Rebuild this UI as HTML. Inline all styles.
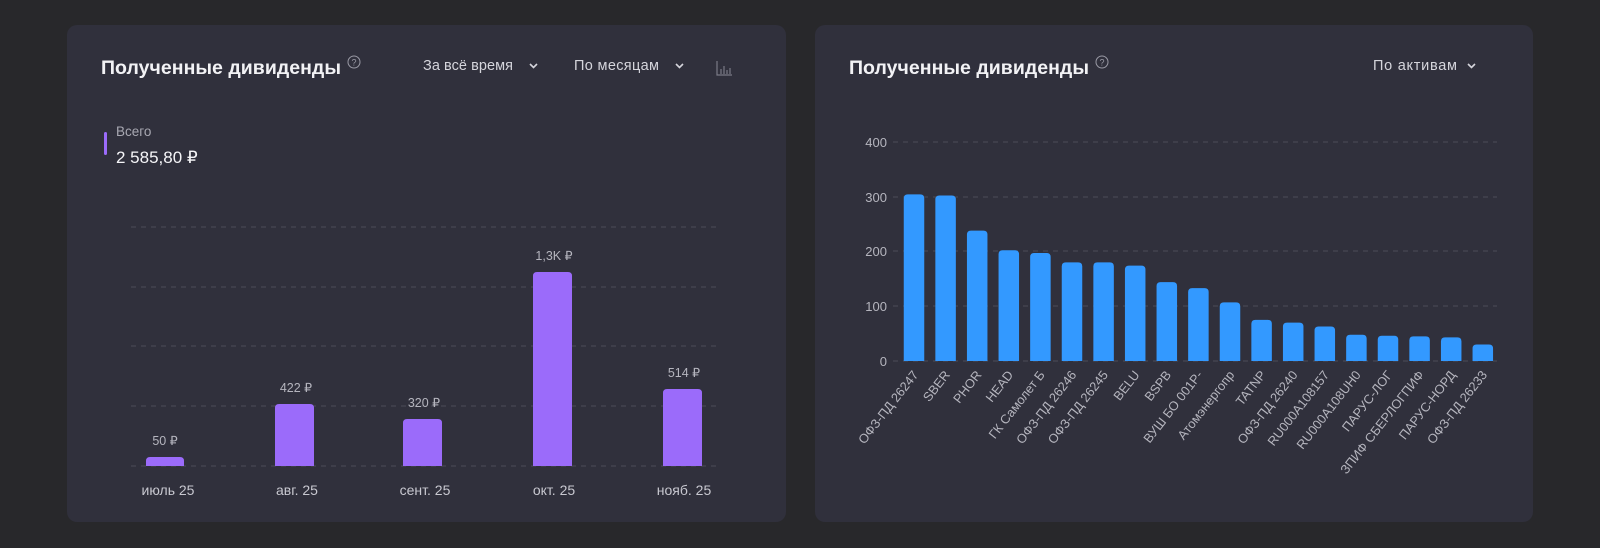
<!DOCTYPE html>
<html><head><meta charset="utf-8"><style>
html,body{margin:0;padding:0;width:1600px;height:548px;overflow:hidden;background:#252529;}
svg{display:block;font-family:"Liberation Sans","Noto Sans CJK SC",sans-serif;}
</style></head><body>
<svg width="1600" height="548" viewBox="0 0 1600 548" xmlns="http://www.w3.org/2000/svg">
<rect width="1600" height="548" fill="#28282b"/>
<rect x="67" y="25" width="719" height="497" rx="10" fill="#30303c"/>
<rect x="815" y="25" width="718" height="497" rx="10" fill="#30303c"/>

<!-- LEFT CARD -->
<text x="101" y="74" font-size="19.5" font-weight="bold" fill="#f2f2f5" textLength="240">Полученные дивиденды</text>
<circle cx="354" cy="62" r="6" fill="none" stroke="#9a9aa5" stroke-width="1"/>
<text x="354" y="65.5" font-size="9" fill="#9a9aa5" text-anchor="middle">?</text>
<text x="423" y="70" font-size="14.5" fill="#d5d5dc" textLength="90">За всё время</text>
<path d="M530 64 l3.5 3.5 l3.5 -3.5" fill="none" stroke="#d5d5dc" stroke-width="1.6"/>
<text x="574" y="70" font-size="14.5" fill="#d5d5dc" textLength="85">По месяцам</text>
<path d="M676 64 l3.5 3.5 l3.5 -3.5" fill="none" stroke="#d5d5dc" stroke-width="1.6"/>
<path d="M717 61 v14 h15 M721 74 v-5 M724 74 v-8 M727 74 v-4 M730 74 v-6" fill="none" stroke="#7a7a86" stroke-width="1.2"/>

<rect x="104" y="132" width="3" height="23" rx="1.5" fill="#9b6bfa"/>
<text x="116" y="136" font-size="13.5" fill="#a8a8b2">Всего</text>
<text x="116" y="163" font-size="17" fill="#f5f5f8">2 585,80 ₽</text>

<g stroke="#4b4b57" stroke-width="1" stroke-dasharray="5,5">
<line x1="131" y1="227" x2="719" y2="227"/>
<line x1="131" y1="287" x2="719" y2="287"/>
<line x1="131" y1="346" x2="719" y2="346"/>
<line x1="131" y1="406" x2="719" y2="406"/>
<line x1="131" y1="466" x2="719" y2="466"/>
</g>
<g fill="#9b6bfa">
<path d="M146 466 v-5 q0 -4 4 -4 h30 q4 0 4 4 v5z"/>
<path d="M275 466 v-58 q0 -4 4 -4 h31 q4 0 4 4 v58z"/>
<path d="M403 466 v-43 q0 -4 4 -4 h31 q4 0 4 4 v43z"/>
<path d="M533 466 v-190 q0 -4 4 -4 h31 q4 0 4 4 v190z"/>
<path d="M663 466 v-73 q0 -4 4 -4 h31 q4 0 4 4 v73z"/>
</g>
<g font-size="12.5" fill="#b5b5be" text-anchor="middle">
<text x="165" y="445">50 ₽</text>
<text x="296" y="392">422 ₽</text>
<text x="424" y="407">320 ₽</text>
<text x="554" y="260">1,3K ₽</text>
<text x="684" y="377">514 ₽</text>
</g>
<g font-size="14" fill="#c8c8d0" text-anchor="middle">
<text x="168" y="495">июль 25</text>
<text x="297" y="495">авг. 25</text>
<text x="425" y="495">сент. 25</text>
<text x="554" y="495">окт. 25</text>
<text x="684" y="495">нояб. 25</text>
</g>

<!-- RIGHT CARD -->
<text x="849" y="74" font-size="19.5" font-weight="bold" fill="#f2f2f5" textLength="240">Полученные дивиденды</text>
<circle cx="1102" cy="62" r="6" fill="none" stroke="#9a9aa5" stroke-width="1"/>
<text x="1102" y="65.5" font-size="9" fill="#9a9aa5" text-anchor="middle">?</text>
<text x="1373" y="70" font-size="14.5" fill="#d5d5dc" textLength="84">По активам</text>
<path d="M1468 64 l3.5 3.5 l3.5 -3.5" fill="none" stroke="#d5d5dc" stroke-width="1.6"/>

<g stroke="#4b4b57" stroke-width="1" stroke-dasharray="5,5">
<line x1="893" y1="142" x2="1497" y2="142"/>
<line x1="893" y1="197" x2="1497" y2="197"/>
<line x1="893" y1="251" x2="1497" y2="251"/>
<line x1="893" y1="306" x2="1497" y2="306"/>
<line x1="893" y1="361" x2="1497" y2="361"/>
</g>
<g font-size="13" fill="#b5b5be" text-anchor="end">
<text x="887" y="147">400</text>
<text x="887" y="202">300</text>
<text x="887" y="256">200</text>
<text x="887" y="311">100</text>
<text x="887" y="366">0</text>
</g>
<g id="bars" fill="#3399ff"></g>
<g id="labs" font-size="12.8" fill="#b5b5be" text-anchor="end"></g>
</svg>
<script>
var vals=[304,302,238,202,197,180,180,174,144,133,107,75,70,63,48,46,45,43,30];
var names=["ОФЗ-ПД 26247","SBER","PHOR","HEAD","ГК Самолет Б","ОФЗ-ПД 26246","ОФЗ-ПД 26245","BELU","BSPB","ВУШ БО 001Р-","Атомэнергопр","TATNP","ОФЗ-ПД 26240","RU000A108157","RU000A108UH0","ПАРУС-ЛОГ","ЗПИФ СБЕРЛОГПИФ","ПАРУС-НОРД","ОФЗ-ПД 26233"];
var ns="http://www.w3.org/2000/svg",b=document.getElementById("bars"),l=document.getElementById("labs");
for(var i=0;i<vals.length;i++){
 var c=914+31.6*i,w=20.5,h=vals[i]*0.548,x=c-w/2,y=361-h,r=4;
 var p=document.createElementNS(ns,"path");
 p.setAttribute("d","M"+x+" 361 V"+(y+r)+" Q"+x+" "+y+" "+(x+r)+" "+y+" H"+(x+w-r)+" Q"+(x+w)+" "+y+" "+(x+w)+" "+(y+r)+" V361Z");
 b.appendChild(p);
 var t=document.createElementNS(ns,"text");
 t.setAttribute("transform","translate("+(c+5)+",375) rotate(-52)");
 t.textContent=names[i];l.appendChild(t);
}
</script>
</body></html>
